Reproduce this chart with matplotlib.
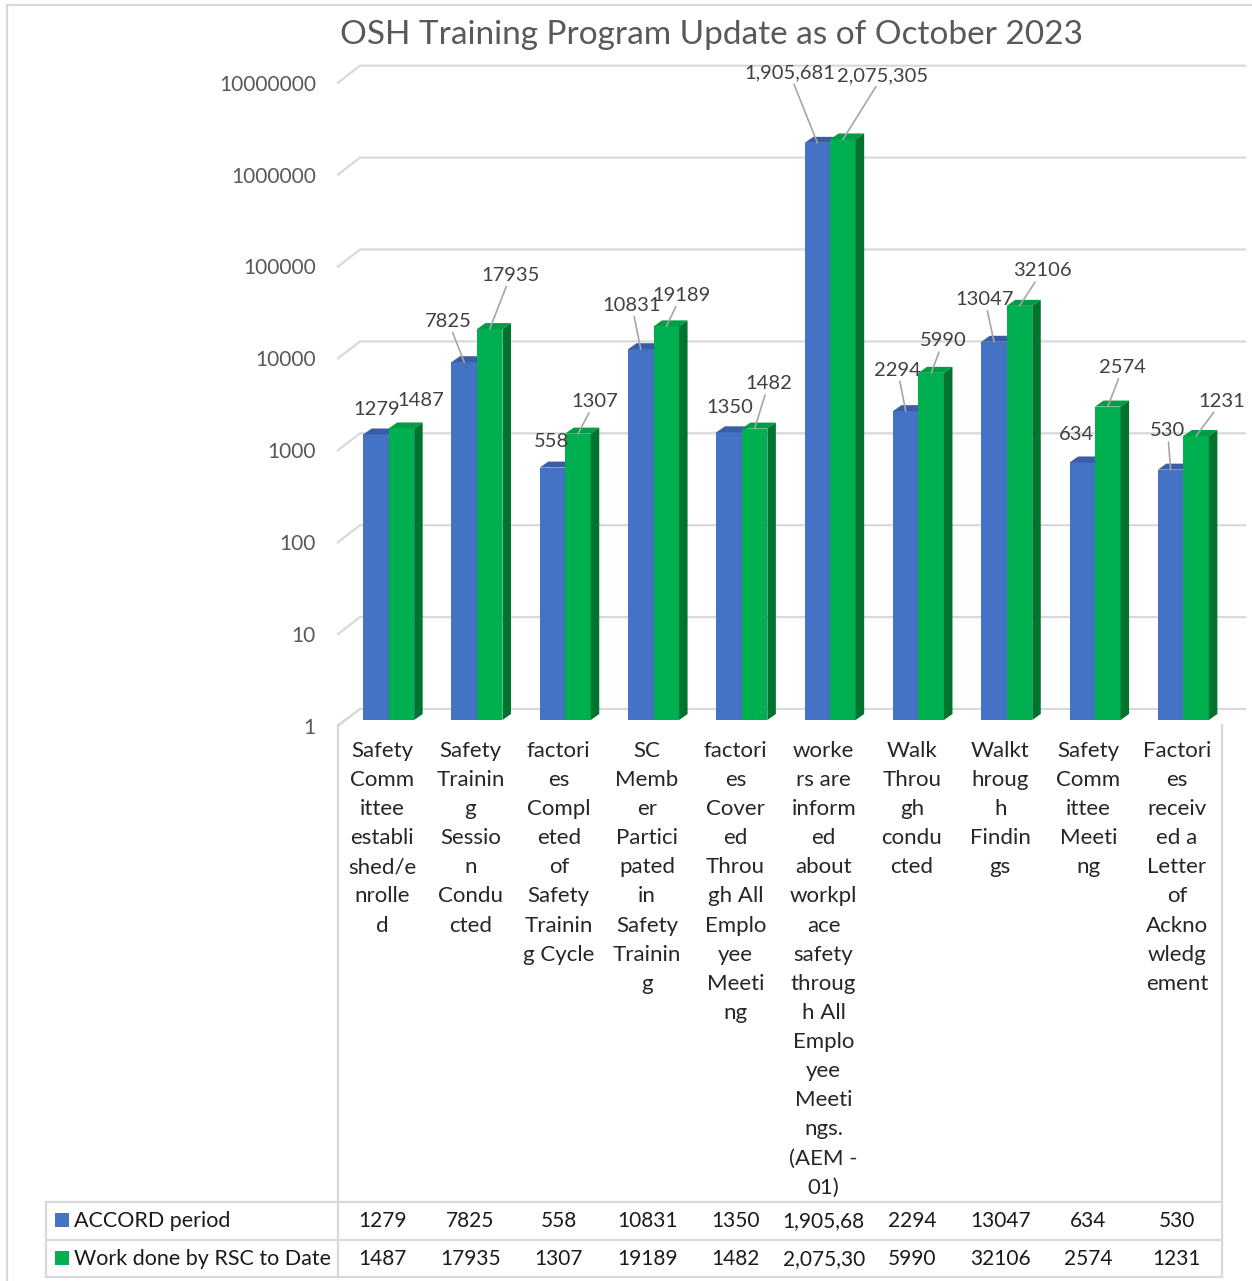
import numpy as np
import matplotlib
matplotlib.use("Agg")
import matplotlib.pyplot as plt
from matplotlib.patches import Polygon, Rectangle
from matplotlib.lines import Line2D
from matplotlib.transforms import ScaledTranslation

plt.rcParams['font.family'] = ['Lato', 'DejaVu Sans']

title = "OSH Training Program Update as of October 2023"
categories = [
    "Safety\nComm\nittee\nestabli\nshed/e\nnrolle\nd",
    "Safety\nTrainin\ng\nSessio\nn\nCondu\ncted",
    "factori\nes\nCompl\neted\nof\nSafety\nTrainin\ng Cycle",
    "SC\nMemb\ner\nPartici\npated\nin\nSafety\nTrainin\ng",
    "factori\nes\nCover\ned\nThrou\ngh All\nEmplo\nyee\nMeeti\nng",
    "worke\nrs are\ninform\ned\nabout\nworkpl\nace\nsafety\nthroug\nh All\nEmplo\nyee\nMeeti\nngs.\n(AEM -\n01)",
    "Walk\nThrou\ngh\ncondu\ncted",
    "Walkt\nhroug\nh\nFindin\ngs",
    "Safety\nComm\nittee\nMeeti\nng",
    "Factori\nes\nreceiv\ned a\nLetter\nof\nAckno\nwledg\nement",
]
series_names = ["ACCORD period", "Work done by RSC to Date"]
accord = [1279, 7825, 558, 10831, 1350, 1905681, 2294, 13047, 634, 530]
rsc = [1487, 17935, 1307, 19189, 1482, 2075305, 5990, 32106, 2574, 1231]
yticks = [1, 10, 100, 1000, 10000, 100000, 1000000, 10000000]

# label offsets in pixels (x, y) from the top of each bar
accord_offsets = [(1, 25), (-16, 41), (-1, 26), (-9, 44), (1, 25),
                  (-28, 70), (-8, 41), (-9, 42), (-6, 28), (-3, 39)]
rsc_offsets = [(19, 28), (21, 54), (17, 32), (15, 31), (14, 45),
               (40, 64), (12, 32), (23, 35), (15, 39), (26, 35)]

W, H = 1252, 1281
BLUE, BLUE_TOP = '#4472C4', '#3A5EA5'
GREEN, GREEN_TOP, GREEN_SIDE = '#00B050', '#009C46', '#00732F'
GRID = '#D9D9D9'
DECADE_PX = 91.9
COL_PX = 88.3


def fx(px):
    return px / W


def fy(py):
    return 1 - py / H


def shift(v, px):
    # move a value up by px pixels on the log axis
    return v * 10 ** (px / DECADE_PX)


def fmt(v):
    return f"{v:,}" if v >= 1000000 else str(v)


fig = plt.figure(figsize=(W / 100, H / 100), dpi=100)
ax = fig.add_axes([fx(338), fy(720), 883 / W, (720 - 76.7) / H])
ax.set_yscale('log')
ax.set_ylim(1, 1e7)
ax.set_xlim(-0.5, 9.5)
for s in ax.spines.values():
    s.set_visible(False)

x = np.arange(len(categories))
w = 25.5 / COL_PX
ddx = 8.5 / COL_PX
ddy = 6

# gridlines with a slanted 3D edge on the left
for v in yticks:
    xs = [-0.5, -0.5 + 22 / COL_PX, -0.5 + (1245 - 338) / COL_PX]
    ys = [shift(v, -6), shift(v, 11), shift(v, 11)]
    ax.plot(xs, ys, color=GRID, lw=1.6, clip_on=False, zorder=0)


def bar3d(left, v, front, top, side):
    right = left + w
    ax.add_patch(Rectangle((left, 1), w, v - 1, facecolor=front, edgecolor='none', zorder=3))
    ax.add_patch(Polygon([(left, v), (left + ddx, shift(v, ddy)), (right + ddx, shift(v, ddy)), (right, v)],
                         facecolor=top, edgecolor='none', zorder=3))
    if side:
        ax.add_patch(Polygon([(right, 1), (right + ddx, shift(1, ddy)), (right + ddx, shift(v, ddy)), (right, v)],
                             facecolor=side, edgecolor='none', zorder=3))


for i in x:
    bar3d(i - 0.215, accord[i], BLUE, BLUE_TOP, None)
    bar3d(i - 0.215 + w, rsc[i], GREEN, GREEN_TOP, GREEN_SIDE)

for i in x:
    for val, off, cx in [(accord[i], accord_offsets[i], i - 0.215 + w / 2),
                         (rsc[i], rsc_offsets[i], i - 0.215 + 1.5 * w)]:
        arrow = dict(arrowstyle='-', color='#A6A6A6', lw=1.2, shrinkA=0, shrinkB=0) if off[1] > 30 else None
        ax.annotate(fmt(val), xy=(cx, val), xytext=off, textcoords='offset pixels',
                    ha='center', va='center', fontsize=14.5, color='#404040',
                    arrowprops=arrow, zorder=5)

ax.set_yticks(yticks)
ax.set_yticklabels([str(v) for v in yticks])
ax.minorticks_off()
ax.tick_params(axis='y', length=0, pad=16, labelsize=15, labelcolor='#595959')
for lab in ax.get_yticklabels():
    lab.set_transform(lab.get_transform() + ScaledTranslation(0, -0.06, fig.dpi_scale_trans))

ax.set_xticks(x)
ax.set_xticklabels(categories, fontsize=16, color='#262626', linespacing=1.57, va='top')
ax.tick_params(axis='x', length=0, pad=15)

fig.text(fx(711), fy(35), title, ha='center', va='center', fontsize=24, color='#595959')

# outer border and data table
lines = [
    ((7, 7), (5, H + 5)), ((7, W + 5), (5, 5)),
    ((338, 338), (725, 1277)), ((1222, 1222), (725, 1277)),
    ((46, 46), (1202, 1277)),
    ((46, 1222), (1202, 1202)), ((46, 1222), (1240, 1240)), ((46, 1222), (1277, 1277)),
]
for xs, ys in lines:
    fig.add_artist(Line2D([fx(p) for p in xs], [fy(p) for p in ys], color=GRID, lw=1.6))

# floor edge
ax.plot([-0.5, -0.5 + 22 / COL_PX], [shift(1, -5), shift(1, 11)], color=GRID, lw=1.6, clip_on=False, zorder=0)

for row, (name, vals, col) in enumerate([(series_names[0], accord, BLUE), (series_names[1], rsc, GREEN)]):
    yc = 1221 + row * 38
    fig.add_artist(Rectangle((fx(55), fy(yc + 6)), 14 / W, 14 / H, facecolor=col, edgecolor='none'))
    fig.text(fx(74), fy(yc), name, ha='left', va='center', fontsize=15.5, color='#1a1a1a')
    for i, v in enumerate(vals):
        fig.text(fx(338 + COL_PX * (i + 0.5)), fy(yc), fmt(v)[:8], ha='center', va='center',
                 fontsize=15, color='#1a1a1a')

fig.savefig("out.png", dpi=100)
